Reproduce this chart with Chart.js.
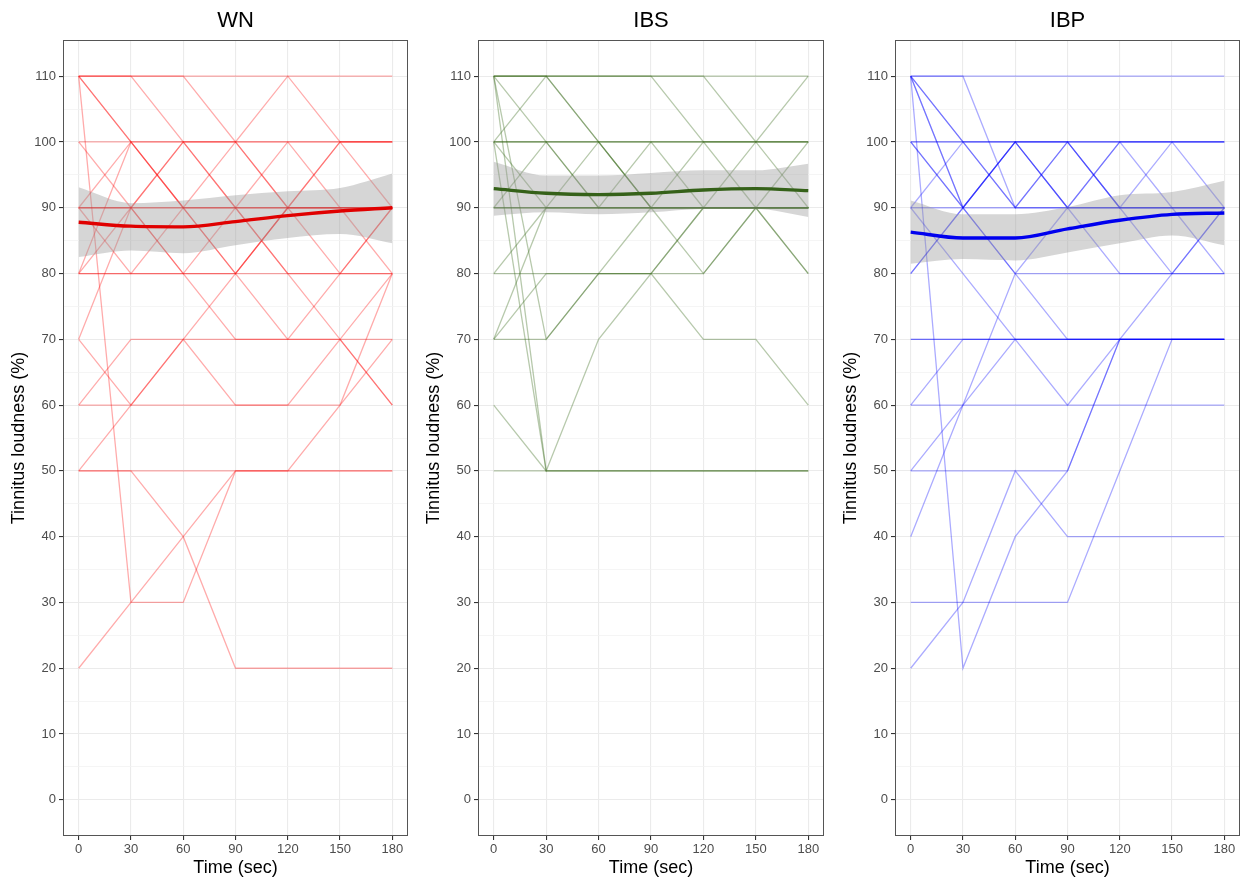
<!DOCTYPE html>
<html>
<head>
<meta charset="utf-8">
<script src="https://cdn.jsdelivr.net/npm/chart.js@4.4.1/dist/chart.umd.min.js"></script>
<style>
  html, body { margin: 0; padding: 0; background: #fff; }
  body { width: 1245px; height: 882px; position: relative; overflow: hidden; }
  canvas { position: absolute; top: 0; }
</style>
</head>
<body>
<canvas id="wn" width="415" height="882" style="left:0px;width:415px;height:882px"></canvas>
<canvas id="ibs" width="415" height="882" style="left:415px;width:415px;height:882px"></canvas>
<canvas id="ibp" width="413" height="882" style="left:832px;width:413px;height:882px"></canvas>
<script>
// time points (sec) and tick positions
const times = [0, 30, 60, 90, 120, 150, 180];
const xTicks = [0, 30, 60, 90, 120, 150, 180];
const yTicks = [0, 10, 20, 30, 40, 50, 60, 70, 80, 90, 100, 110];

// WN: one row per subject, loudness at each time point
const wnSubjects = [
  [110, 110, 110, 110, 110, 110, 110],
  [110, 110, 100, 100, 100, 100, 100],
  [110, 110, 110, 100, 110, 100, 100],
  [110, 100, 100, 100, 100, 100, 100],
  [110, 100, 90, 90, 90, 90, 90],
  [110, 30, 30, 50, 50, 50, 50],
  [100, 100, 100, 90, 80, 80, 80],
  [100, 90, 80, 90, 100, 90, 90],
  [90, 100, 90, 100, 90, 80, 90],
  [90, 90, 90, 90, 90, 90, 90],
  [90, 90, 90, 90, 90, 90, 90],
  [90, 90, 100, 100, 90, 90, 90],
  [90, 80, 80, 80, 90, 100, 90],
  [80, 90, 100, 90, 80, 70, 80],
  [80, 80, 90, 80, 70, 70, 60],
  [80, 100, 90, 80, 90, 100, 100],
  [80, 80, 80, 80, 80, 80, 80],
  [70, 90, 80, 70, 70, 80, 90],
  [70, 60, 60, 60, 60, 60, 70],
  [60, 70, 70, 70, 70, 70, 60],
  [60, 60, 70, 60, 60, 70, 70],
  [50, 60, 70, 80, 90, 90, 80],
  [50, 50, 50, 50, 50, 60, 80],
  [20, 30, 40, 50, 50, 50, 50],
  [50, 50, 40, 20, 20, 20, 20]
];
const wnSmooth = [87.8, 87.2, 87.1, 87.9, 88.8, 89.5, 90.0];
const wnUpper = [93.1, 90.7, 91.1, 91.9, 92.5, 93.0, 95.2];
const wnLower = [82.5, 83.5, 83.1, 84.3, 85.4, 86.0, 84.6];

// IBS
const ibsSubjects = [
  [110, 110, 110, 110, 110, 110, 110],
  [110, 110, 100, 90, 90, 90, 90],
  [110, 110, 100, 90, 90, 90, 90],
  [110, 100, 90, 90, 90, 90, 90],
  [110, 70, 80, 80, 90, 90, 90],
  [110, 50, 50, 50, 50, 50, 50],
  [100, 110, 110, 110, 100, 90, 80],
  [100, 100, 100, 100, 100, 100, 100],
  [100, 100, 100, 100, 100, 100, 100],
  [100, 100, 100, 100, 90, 90, 90],
  [100, 90, 100, 90, 100, 100, 100],
  [90, 100, 90, 100, 100, 100, 100],
  [90, 90, 90, 90, 90, 90, 90],
  [90, 90, 90, 90, 90, 90, 90],
  [80, 90, 90, 90, 90, 90, 90],
  [80, 80, 80, 80, 80, 90, 80],
  [70, 70, 80, 80, 90, 90, 90],
  [70, 80, 80, 90, 90, 90, 90],
  [70, 90, 90, 90, 90, 100, 90],
  [60, 50, 70, 80, 70, 70, 60],
  [50, 50, 50, 50, 50, 50, 50],
  [110, 110, 110, 110, 110, 100, 110],
  [100, 50, 50, 50, 50, 50, 50],
  [90, 90, 90, 90, 80, 90, 100]
];
const ibsSmooth = [92.9, 92.2, 92.0, 92.2, 92.7, 92.9, 92.6];
const ibsUpper = [97.0, 94.9, 94.9, 95.3, 95.7, 95.7, 96.7];
const ibsLower = [88.8, 89.3, 89.0, 89.3, 89.8, 89.8, 88.6];

// IBP
const ibpSubjects = [
  [110, 110, 110, 110, 110, 110, 110],
  [110, 110, 90, 90, 90, 90, 90],
  [110, 100, 100, 100, 100, 100, 100],
  [110, 100, 90, 100, 90, 90, 90],
  [110, 90, 100, 90, 100, 100, 100],
  [110, 90, 80, 70, 70, 70, 70],
  [110, 20, 40, 50, 70, 70, 70],
  [100, 100, 100, 100, 100, 100, 100],
  [100, 90, 100, 90, 80, 80, 80],
  [100, 90, 100, 90, 100, 100, 100],
  [90, 100, 90, 100, 90, 90, 90],
  [90, 90, 90, 90, 90, 90, 90],
  [90, 80, 70, 70, 70, 70, 70],
  [80, 90, 100, 100, 100, 90, 80],
  [80, 90, 80, 80, 80, 80, 80],
  [70, 70, 70, 70, 70, 70, 70],
  [70, 70, 70, 70, 70, 70, 70],
  [60, 70, 70, 60, 70, 70, 70],
  [60, 60, 60, 60, 60, 60, 60],
  [50, 60, 70, 70, 70, 70, 70],
  [50, 50, 50, 50, 70, 80, 90],
  [40, 60, 80, 90, 90, 100, 90],
  [30, 30, 30, 30, 50, 70, 70],
  [20, 30, 50, 40, 40, 40, 40],
  [100, 100, 100, 100, 90, 80, 90]
];
const ibpSmooth = [86.3, 85.4, 85.4, 86.8, 88.1, 89.0, 89.2];
const ibpUpper = [91.1, 89.0, 89.0, 90.1, 91.9, 92.4, 94.1];
const ibpLower = [81.5, 82.2, 82.0, 83.2, 84.6, 85.8, 84.3];

const FONT = '"Liberation Sans", Arial, Helvetica, sans-serif';

function pts(vals) {
  return times.map((t, i) => ({ x: t, y: vals[i] }));
}

// panel border + facet title
const panelDeco = {
  id: 'panelDeco',
  afterDatasetsDraw(chart) {
    const a = chart.chartArea;
    const ctx = chart.ctx;
    ctx.save();
    ctx.strokeStyle = '#555';
    ctx.lineWidth = 1;
    ctx.strokeRect(a.left + 0.5, a.top + 0.5, a.right - a.left - 1, a.bottom - a.top - 1);
    ctx.restore();
  },
  afterDraw(chart) {
    const a = chart.chartArea;
    const ctx = chart.ctx;
    ctx.save();
    ctx.fillStyle = '#000';
    ctx.font = '22px ' + FONT;
    ctx.textAlign = 'center';
    ctx.textBaseline = 'middle';
    ctx.fillText(chart.options.panelTitle, (a.left + a.right) / 2, 21);
    ctx.restore();
  }
};

function makePanel(id, title, subjects, smooth, lower, upper, lineColor, smoothColor, padRight) {
  const datasets = subjects.map(vals => ({
    data: pts(vals),
    borderColor: lineColor,
    borderWidth: 1.3,
    pointRadius: 0,
    fill: false,
    tension: 0,
    order: 3
  }));
  datasets.push({
    data: pts(upper),
    borderColor: 'transparent',
    borderWidth: 0,
    backgroundColor: 'rgba(153,153,153,0.4)',
    pointRadius: 0,
    fill: '+1',
    cubicInterpolationMode: 'monotone',
    order: 2
  });
  datasets.push({
    data: pts(lower),
    borderColor: 'transparent',
    borderWidth: 0,
    pointRadius: 0,
    fill: false,
    cubicInterpolationMode: 'monotone',
    order: 2
  });
  datasets.push({
    data: pts(smooth),
    borderColor: smoothColor,
    borderWidth: 3.4,
    pointRadius: 0,
    fill: false,
    cubicInterpolationMode: 'monotone',
    order: 1
  });

  return new Chart(document.getElementById(id), {
    type: 'line',
    data: { datasets },
    options: {
      panelTitle: title,
      responsive: false,
      animation: false,
      layout: { padding: { top: 40, right: padRight, left: 0, bottom: 0 } },
      plugins: { legend: { display: false }, tooltip: { enabled: false } },
      scales: {
        x: {
          type: 'linear',
          min: -9,
          max: 189,
          afterBuildTicks: s => { s.ticks = xTicks.map(v => ({ value: v })); },
          afterFit: s => { s.height = 46; },
          border: { display: false },
          grid: { color: '#ebebeb', lineWidth: 1.1, tickColor: '#333', tickLength: 4 },
          ticks: { color: '#4d4d4d', font: { size: 13, family: FONT }, padding: 2, maxRotation: 0, autoSkip: false },
          title: { display: true, text: 'Time (sec)', color: '#000', font: { size: 18, family: FONT }, padding: { top: 0, bottom: 3 } }
        },
        y: {
          type: 'linear',
          min: -5.5,
          max: 115.5,
          afterBuildTicks: s => {
            const t = [];
            yTicks.forEach(v => { t.push({ value: v }); if (v < 110) t.push({ value: v + 5 }); });
            s.ticks = t;
          },
          afterFit: s => { s.width = 63; },
          border: { display: false },
          grid: {
            color: c => (c.tick && c.tick.value % 10 === 0) ? '#ebebeb' : '#f2f2f2',
            lineWidth: c => (c.tick && c.tick.value % 10 === 0) ? 1.1 : 0.8,
            tickColor: c => (c.tick && c.tick.value % 10 === 0) ? '#333' : 'rgba(0,0,0,0)',
            tickLength: 4
          },
          ticks: {
            color: '#4d4d4d',
            font: { size: 13, family: FONT },
            padding: 3,
            autoSkip: false,
            callback: v => (v % 10 === 0 ? String(v) : '')
          },
          title: { display: true, text: 'Tinnitus loudness (%)', color: '#000', font: { size: 18, family: FONT }, padding: { top: 8, bottom: 0 } }
        }
      }
    },
    plugins: [panelDeco]
  });
}

makePanel('wn', 'WN', wnSubjects, wnSmooth, wnLower, wnUpper, 'rgba(255,0,0,0.33)', '#e00000', 7);
makePanel('ibs', 'IBS', ibsSubjects, ibsSmooth, ibsLower, ibsUpper, 'rgba(56,104,24,0.36)', '#356119', 6);
makePanel('ibp', 'IBP', ibpSubjects, ibpSmooth, ibpLower, ibpUpper, 'rgba(0,0,255,0.33)', '#0000ee', 5);
</script>
</body>
</html>
